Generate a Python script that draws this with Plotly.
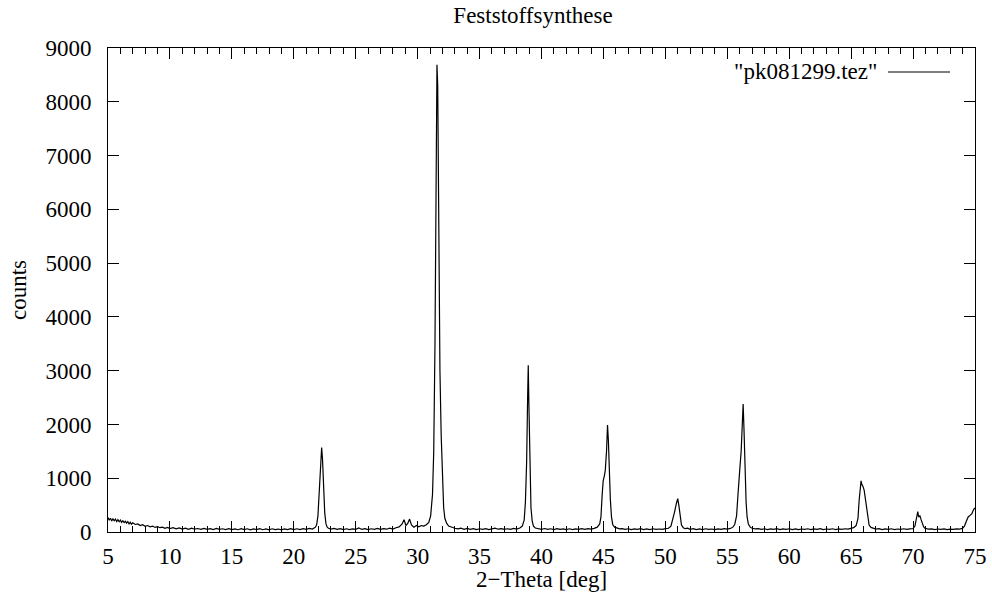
import plotly.graph_objects as go

# ---- data ----
two_theta = [
    5.0, 5.1, 5.2, 5.3, 5.4, 5.5, 5.6, 5.7, 5.8, 5.9, 6.0, 6.1, 6.2, 6.3, 6.4, 6.5, 6.6, 6.7, 6.8, 6.9,
    7.0, 7.2, 7.4, 7.6, 7.8, 8.0, 8.2, 8.4, 8.6, 8.8, 9.0, 9.2, 9.4, 9.6, 9.8, 10.0,
    10.25, 10.5, 10.75, 11.0, 11.25, 11.5, 11.75, 12.0, 12.25, 12.5, 12.75, 13.0, 13.25, 13.5, 13.75,
    14.0, 14.25, 14.5, 14.75, 15.0, 15.25, 15.5, 15.75, 16.0, 16.25, 16.5, 16.75, 17.0, 17.25, 17.5,
    17.75, 18.0, 18.25, 18.5, 18.75, 19.0, 19.25, 19.5, 19.75, 20.0, 20.25, 20.5, 20.75, 21.0, 21.25,
    21.5, 21.75,
    21.85, 21.95, 22.05, 22.15, 22.25, 22.32, 22.4, 22.5, 22.6, 22.7, 22.8,
    23.0, 23.25, 23.5, 23.75, 24.0, 24.25, 24.5, 24.75, 25.0, 25.25, 25.5, 25.75, 26.0, 26.25, 26.5,
    26.75, 27.0, 27.25, 27.5, 27.75, 28.0, 28.25, 28.5, 28.75, 28.9, 29.05, 29.2, 29.35, 29.5, 29.7,
    29.9, 30.1, 30.3, 30.5, 30.7, 30.9,
    31.05, 31.2, 31.3, 31.4, 31.48, 31.56, 31.62, 31.7, 31.8, 31.9, 32.0, 32.1, 32.2, 32.35, 32.5,
    32.75, 33.0, 33.25, 33.5, 33.75, 34.0, 34.25, 34.5, 34.75, 35.0, 35.25, 35.5, 35.75, 36.0, 36.25,
    36.5, 36.75, 37.0, 37.25, 37.5, 37.75, 38.0, 38.25,
    38.45, 38.6, 38.7, 38.8, 38.88, 38.93, 38.98, 39.02, 39.08, 39.15, 39.25, 39.35, 39.5,
    39.75, 40.0, 40.25, 40.5, 40.75, 41.0, 41.25, 41.5, 41.75, 42.0, 42.25, 42.5, 42.75, 43.0, 43.25,
    43.5, 43.75, 44.0, 44.25,
    44.5, 44.7, 44.8, 44.9, 44.98, 45.08, 45.15, 45.25, 45.33, 45.4, 45.48, 45.56, 45.65, 45.75, 45.9,
    46.1, 46.3, 46.5, 46.75, 47.0, 47.25, 47.5, 47.75, 48.0, 48.25, 48.5, 48.75, 49.0, 49.25, 49.5,
    49.75, 50.0, 50.25,
    50.45, 50.6, 50.75, 50.9, 51.0, 51.1, 51.2, 51.3, 51.45, 51.6, 51.8,
    52.0, 52.25, 52.5, 52.75, 53.0, 53.25, 53.5, 53.75, 54.0, 54.25, 54.5, 54.75, 55.0, 55.25,
    55.45, 55.6, 55.75, 55.85, 55.95, 56.03, 56.12, 56.2, 56.28, 56.35, 56.43, 56.52, 56.6, 56.7,
    56.85, 57.0, 57.25, 57.5, 57.75, 58.0, 58.25, 58.5, 58.75, 59.0, 59.25, 59.5, 59.75, 60.0, 60.25,
    60.5, 60.75, 61.0, 61.25, 61.5, 61.75, 62.0, 62.25, 62.5, 62.75, 63.0, 63.25, 63.5, 63.75, 64.0,
    64.25, 64.5, 64.75, 65.0, 65.2, 65.4,
    65.55, 65.65, 65.75, 65.8, 65.87, 65.95, 66.05, 66.15, 66.25, 66.35, 66.45, 66.6, 66.8,
    67.0, 67.25, 67.5, 67.75, 68.0, 68.25, 68.5, 68.75, 69.0, 69.25, 69.5, 69.75, 70.0,
    70.15, 70.25, 70.32, 70.38, 70.45, 70.55, 70.65, 70.75, 70.85, 70.95, 71.1,
    71.25, 71.5, 71.75, 72.0, 72.25, 72.5, 72.75, 73.0, 73.25, 73.5, 73.75, 74.0,
    74.15, 74.3, 74.45, 74.6, 74.75, 74.85, 74.95, 75.0,
]

counts = [
    270, 220, 255, 205, 245, 210, 240, 195, 230, 190, 220, 180, 210, 175, 200, 165, 195, 150, 180, 145,
    170, 140, 150, 120, 135, 105, 120, 95, 110, 85, 100, 80, 90, 70, 85, 65,
    80, 60, 75, 55, 70, 50, 72, 52, 65, 48, 68, 50, 62, 45, 66,
    48, 60, 45, 64, 46, 58, 42, 62, 45, 60, 40, 58, 44, 62, 42,
    56, 40, 60, 44, 55, 40, 58, 45, 62, 44, 60, 46, 64, 48, 66,
    55, 90,
    140, 300, 700, 1250, 1570, 1350, 800, 350, 150, 90, 70,
    55, 68, 48, 62, 46, 60, 45, 58, 50, 75, 48, 62, 45, 60, 50,
    66, 48, 64, 52, 70, 55, 80, 95, 150, 230, 120, 160, 240, 130, 90,
    120, 95, 120, 110, 135, 180,
    300, 700, 1500, 3500, 6500, 8690, 8300, 5500, 3000, 1800, 900, 450, 250, 160, 110,
    85, 70, 58, 72, 50, 66, 48, 62, 45, 60, 48, 64, 46, 58, 70,
    52, 62, 48, 60, 50, 66, 55, 75,
    110, 220, 550, 1300, 2500, 3100, 2400, 1800, 1000, 450, 200, 110, 75,
    60, 50, 65, 48, 60, 45, 62, 48, 58, 46, 60, 45, 58, 50, 62,
    48, 64, 55, 68,
    90, 150, 280, 700, 950, 1050, 1150, 1500, 1990, 1700, 1100, 600, 280, 140, 90,
    70, 58, 62, 48, 60, 45, 58, 48, 62, 46, 58, 44, 60, 48, 56,
    50, 62, 70,
    110, 230, 380, 540, 620, 480, 280, 130, 80, 62, 70,
    50, 62, 46, 58, 44, 60, 48, 56, 45, 58, 48, 62, 52, 66,
    90, 140, 300, 650, 1100, 1230, 1500, 2000, 2380, 1900, 1100, 550, 280, 150,
    90, 70, 58, 64, 48, 60, 46, 58, 48, 62, 45, 58, 50, 60, 46,
    58, 44, 56, 48, 60, 45, 58, 50, 62, 46, 56, 48, 60, 45, 58,
    50, 60, 55, 66, 80, 120,
    250, 600, 900, 950, 880, 850, 780, 620, 400, 220, 130, 85, 65,
    55, 62, 46, 58, 48, 60, 45, 56, 48, 60, 50, 58, 65,
    110, 250, 330, 380, 280, 300, 230, 160, 100, 70, 60,
    52, 58, 45, 56, 48, 58, 46, 55, 48, 58, 55, 70,
    110, 200, 280, 310, 340, 400, 440, 430,
]

x_ticks = [5, 10, 15, 20, 25, 30, 35, 40, 45, 50, 55, 60, 65, 70, 75]
y_ticks = [0, 1000, 2000, 3000, 4000, 5000, 6000, 7000, 8000, 9000]

title_text = "Feststoffsynthese"
x_title = "2\u2212Theta [deg]"
y_title = "counts"
series_name = '"pk081299.tez"'

FONT = "Liberation Serif"
FS = 23

fig = go.Figure()
fig.add_trace(go.Scatter(
    x=two_theta, y=counts, mode="lines", name=series_name,
    line=dict(color="black", width=1.2), showlegend=False, hoverinfo="skip",
))

axis_common = dict(
    showgrid=False, zeroline=False, showline=True, linecolor="black", linewidth=1,
    ticks="inside", ticklen=11, tickcolor="black", tickwidth=1, mirror="allticks",
    tickfont=dict(family=FONT, size=FS, color="black"),
)

fig.update_xaxes(
    range=[5, 75], tickvals=x_ticks, ticktext=[str(v) for v in x_ticks],
    minor=dict(dtick=1, ticks="inside", ticklen=6, tickcolor="black", tickwidth=1),
    ticklabelstandoff=3,
    **axis_common,
)
fig.update_yaxes(
    range=[0, 9000], tickvals=y_ticks, ticktext=[str(v) for v in y_ticks],
    ticklabelstandoff=11,
    **axis_common,
)

L, R, T, B = 108, 17, 48, 66
W, H = 992, 598
pw, ph = W - L - R, H - T - B

def px_x(p):
    return (p - L) / pw

def px_y(p):
    return (H - B - p) / ph

fig.add_annotation(text=x_title, xref="paper", yref="paper", x=0.5, y=px_y(579),
                   showarrow=False, xanchor="center", yanchor="middle",
                   font=dict(family=FONT, size=FS, color="black"))
fig.add_annotation(text=y_title, xref="paper", yref="paper", x=px_x(18), y=px_y(290),
                   showarrow=False, xanchor="center", yanchor="middle", textangle=-90,
                   font=dict(family=FONT, size=FS, color="black"))
fig.add_annotation(text=series_name, xref="paper", yref="paper", x=px_x(879), y=px_y(72),
                   showarrow=False, xanchor="right", yanchor="middle",
                   font=dict(family=FONT, size=FS, color="black"))
fig.add_shape(type="line", xref="paper", yref="paper",
              x0=px_x(888), x1=px_x(950), y0=px_y(72), y1=px_y(72),
              line=dict(color="black", width=1.2))

fig.update_layout(
    width=W, height=H,
    margin=dict(l=L, r=R, t=T, b=B, autoexpand=False),
    paper_bgcolor="white", plot_bgcolor="white",
    title=dict(text=title_text, x=px_x(533), xref="paper", y=1 - 15 / H, yref="container",
               xanchor="center", yanchor="middle",
               font=dict(family=FONT, size=FS, color="black")),
    font=dict(family=FONT, size=FS, color="black"),
    hovermode=False,
)

fig.write_html("out.html", config={"displayModeBar": False, "staticPlot": True},
               post_script="document.body.style.margin='0';document.body.style.padding='0';")
